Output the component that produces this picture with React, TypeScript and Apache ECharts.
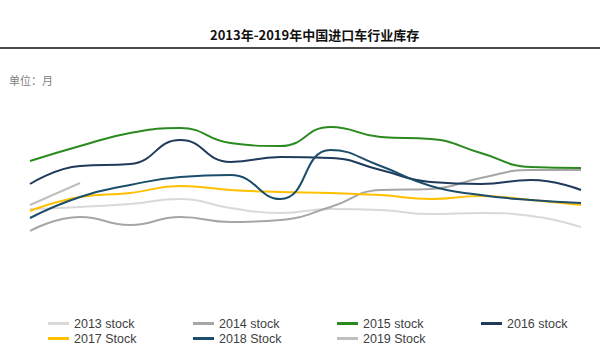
import React, { useEffect, useRef } from "react";
import * as echarts from "echarts";

const months = ["1月", "2月", "3月", "4月", "5月", "6月", "7月", "8月", "9月", "10月", "11月", "12月"];
const seriesNames = ["2013 stock", "2014 stock", "2015 stock", "2016 stock", "2017 Stock", "2018 Stock", "2019 Stock"];
const s2013 = [0.82, 0.86, 0.92, 1.02, 0.84, 0.74, 0.82, 0.8, 0.72, 0.74, 0.68, 0.46];
const s2014 = [0.38, 0.66, 0.5, 0.66, 0.56, 0.6, 0.86, 1.2, 1.22, 1.44, 1.6, 1.6];
const s2015 = [1.78, 2.08, 2.34, 2.44, 2.14, 2.08, 2.46, 2.26, 2.22, 1.94, 1.66, 1.64];
const s2016 = [1.32, 1.68, 1.72, 2.2, 1.76, 1.86, 1.84, 1.6, 1.36, 1.32, 1.4, 1.2];
const s2017 = [0.78, 1.06, 1.14, 1.28, 1.2, 1.16, 1.14, 1.1, 1.02, 1.08, 1.0, 0.9];
const s2018 = [0.64, 1.06, 1.3, 1.46, 1.5, 1.02, 2.0, 1.68, 1.28, 1.1, 1.0, 0.94];
const s2019 = [0.9, 1.34];
const colors = ["#d9d9d9", "#a6a6a6", "#2a8a1f", "#1f3a5a", "#ffc000", "#1c4d6b", "#bfbfbf"];
const allData = [s2013, s2014, s2015, s2016, s2017, s2018, s2019];

const legendPos = [
  [48, 317], [193, 317], [337, 317], [481, 317],
  [48, 332], [193, 332], [337, 332],
];

export default function App() {
  const ref = useRef<HTMLDivElement>(null);
  useEffect(() => {
    if (!ref.current) return;
    const chart = echarts.init(ref.current, null, { renderer: "svg" });
    chart.setOption({
      animation: false,
      backgroundColor: "#ffffff",
      title: [
        {
          text: "2013年-2019年中国进口车行业库存",
          left: 205,
          top: 23,
          textStyle: { fontSize: 13, fontWeight: "bold", color: "#111", fontFamily: "Noto Sans CJK SC" },
        },
        {
          text: "单位：月",
          left: 4,
          top: 69,
          textStyle: { fontSize: 11, fontWeight: "normal", color: "#808080", fontFamily: "Noto Sans CJK SC" },
        },
      ],
      graphic: [
        {
          type: "line",
          shape: { x1: 0, y1: 48, x2: 600, y2: 48 },
          style: { stroke: "#4a4a4a", lineWidth: 2 },
        },
      ],
      legend: seriesNames.map((n, i) => ({
        data: [n],
        left: legendPos[i][0],
        top: legendPos[i][1],
        icon: "rect",
        itemWidth: 21,
        itemHeight: 3,
        padding: 0,
        textStyle: { fontSize: 12.5, color: "#404040", fontFamily: "Liberation Sans, Arial" },
      })),
      grid: { left: 30, right: 19, top: 100, bottom: 104 },
      xAxis: {
        type: "category",
        data: months,
        boundaryGap: false,
        show: false,
      },
      yAxis: {
        type: "value",
        min: 0,
        max: 3,
        show: false,
      },
      series: seriesNames.map((n, i) => ({
        name: n,
        type: "line",
        data: allData[i],
        smooth: 0.5,
        showSymbol: false,
        symbol: "none",
        lineStyle: { width: 2, color: colors[i] },
        itemStyle: { color: colors[i] },
        z: i === 6 ? 1 : 2,
      })),
    });
    return () => chart.dispose();
  }, []);
  return (
    <div
      ref={ref}
      style={{ position: "fixed", left: 0, top: 0, width: 600, height: 354, background: "#fff" }}
    />
  );
}
